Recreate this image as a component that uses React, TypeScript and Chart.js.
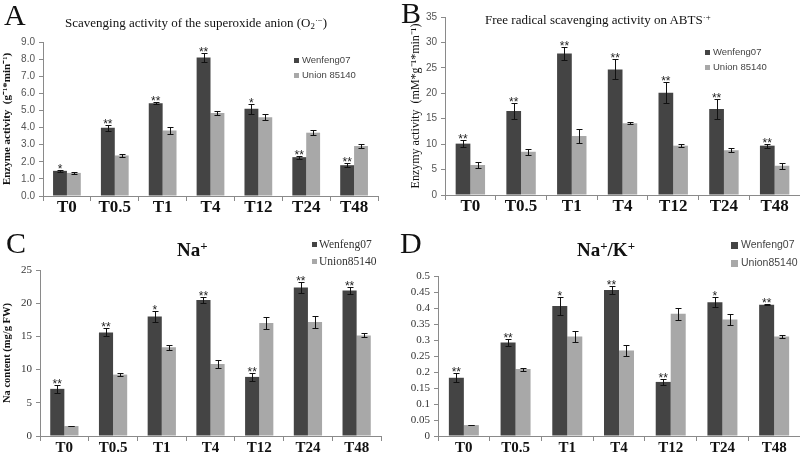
import React, { useEffect, useRef } from "react";
import { Chart, registerables } from "chart.js";

Chart.register(...registerables);

// ---------- data ----------
const categories = ["T0", "T0.5", "T1", "T4", "T12", "T24", "T48"];

// Panel A: superoxide anion scavenging
const aSeriesNames = ["Wenfeng07", "Union 85140"];
const aWenfeng = [1.47, 3.99, 5.42, 8.1, 5.1, 2.27, 1.8];
const aWenfengErr = [0.07, 0.17, 0.05, 0.28, 0.3, 0.08, 0.1];
const aUnion = [1.35, 2.37, 3.83, 4.85, 4.6, 3.7, 2.92];
const aUnionErr = [0.04, 0.08, 0.2, 0.12, 0.18, 0.13, 0.12];
const aStars = ["*", "**", "**", "**", "*", "**", "**"];
const aYMax = 9;
const aYStep = 1;

// Panel B: ABTS radical scavenging
const bSeriesNames = ["Wenfeng07", "Union 85140"];
const bWenfeng = [10.1, 16.5, 27.8, 24.7, 20.1, 16.9, 9.7];
const bWenfengErr = [0.65, 1.5, 1.3, 1.96, 2.06, 1.9, 0.4];
const bUnion = [5.9, 8.5, 11.6, 14.1, 9.7, 8.8, 5.75];
const bUnionErr = [0.5, 0.6, 1.45, 0.2, 0.3, 0.4, 0.55];
const bStars = ["**", "**", "**", "**", "**", "**", "**"];
const bYMax = 35;
const bYStep = 5;

// Panel C: Na+ content
const cSeriesNames = ["Wenfeng07", "Union85140"];
const cWenfeng = [7.1, 15.6, 18.0, 20.5, 8.9, 22.35, 21.9];
const cWenfengErr = [0.6, 0.6, 0.9, 0.45, 0.6, 0.85, 0.5];
const cUnion = [1.5, 9.25, 13.35, 10.85, 17.0, 17.15, 15.15];
const cUnionErr = [0.05, 0.2, 0.35, 0.65, 0.95, 0.9, 0.3];
const cStars = ["**", "**", "*", "**", "**", "**", "**"];
const cYMax = 25;
const cYStep = 5;

// Panel D: Na+/K+
const dSeriesNames = ["Wenfeng07", "Union85140"];
const dWenfeng = [0.182, 0.292, 0.406, 0.456, 0.169, 0.418, 0.41];
const dWenfengErr = [0.014, 0.011, 0.029, 0.013, 0.01, 0.015, 0.002];
const dUnion = [0.034, 0.209, 0.311, 0.267, 0.382, 0.364, 0.311];
const dUnionErr = [0.001, 0.005, 0.016, 0.018, 0.019, 0.018, 0.005];
const dStars = ["**", "**", "*", "**", "**", "*", "**"];
const dYMax = 0.5;
const dYStep = 0.05;

// ---------- styles ----------
const DARK = "#444444";
const LIGHT = "#a8a8a8";
const AXIS = "#8a8a8a";
const SERIF = '"Liberation Serif", "Times New Roman", serif';
const SANS = '"Liberation Sans", Arial, sans-serif';

type Area = { l: number; r: number; t: number; b: number };
type LegendStyle = { x: number; ys: number[]; font: string; box: number; gap: number; color: string };
type PanelSpec = {
  names: string[];
  values: number[][];
  errors: number[][];
  stars: string[];
  yMax: number;
  yStep: number;
  decimals: number | null;
  yTitle: string;
  area: Area;
  tickFont: { family: string; size: number; weight?: string };
  tickColor: string;
  yTitleFont: { family: string; size: number; weight?: string };
  yTitlePad: number;
  xFontSize: number;
  xPad: number;
  legend: LegendStyle;
};

const extrasPlugin = {
  id: "extras",
  afterDatasetsDraw(chart: any, _args: any, opts: any) {
    const { ctx } = chart;
    const yScale = chart.scales.y;
    chart.data.datasets.forEach((ds: any, di: number) => {
      const meta = chart.getDatasetMeta(di);
      const errs: number[] = opts.errors[di];
      meta.data.forEach((bar: any, i: number) => {
        const v = ds.data[i] as number;
        const e = errs[i];
        const x = Math.round(bar.x) + 0.5;
        const yT = Math.round(yScale.getPixelForValue(v + e)) + 0.5;
        const yB = Math.round(yScale.getPixelForValue(v - e)) + 0.5;
        ctx.save();
        ctx.strokeStyle = "#111";
        ctx.lineWidth = 1;
        ctx.beginPath();
        ctx.moveTo(x, yT);
        ctx.lineTo(x, yB);
        ctx.moveTo(x - 3, yT);
        ctx.lineTo(x + 3, yT);
        ctx.moveTo(x - 3, yB);
        ctx.lineTo(x + 3, yB);
        ctx.stroke();
        if (di === 0 && opts.stars[i]) {
          ctx.fillStyle = "#222";
          ctx.font = `12px ${SANS}`;
          ctx.textAlign = "center";
          ctx.textBaseline = "alphabetic";
          ctx.fillText(opts.stars[i], bar.x, yT + 2);
        }
        ctx.restore();
      });
    });
    // legend
    const lg: LegendStyle = opts.legend;
    ctx.save();
    chart.data.datasets.forEach((ds: any, di: number) => {
      const y = lg.ys[di];
      ctx.fillStyle = ds.backgroundColor;
      ctx.fillRect(lg.x, Math.round(y - lg.box / 2), lg.box, lg.box);
      ctx.fillStyle = lg.color;
      ctx.font = lg.font;
      ctx.textAlign = "left";
      ctx.textBaseline = "middle";
      ctx.fillText(ds.label, lg.x + lg.box + lg.gap, y + 0.5);
    });
    ctx.restore();
  },
};

function BarPanel({ spec }: { spec: PanelSpec }) {
  const ref = useRef<HTMLCanvasElement | null>(null);
  useEffect(() => {
    if (!ref.current) return;
    const s = spec;
    const chart = new Chart(ref.current, {
      type: "bar",
      data: {
        labels: categories,
        datasets: s.names.map((n, i) => ({
          label: n,
          data: s.values[i],
          backgroundColor: i === 0 ? DARK : LIGHT,
          borderWidth: 0,
          categoryPercentage: 0.58,
          barPercentage: 1.0,
        })),
      },
      options: {
        responsive: false,
        animation: false,
        events: [],
        layout: { padding: { top: s.area.t, right: 400 - s.area.r, left: 0, bottom: 0 } },
        plugins: {
          legend: { display: false },
          tooltip: { enabled: false },
          title: { display: false },
          // @ts-ignore
          extras: { errors: s.errors, stars: s.stars, legend: s.legend },
        },
        scales: {
          x: {
            type: "category",
            offset: true,
            grid: {
              display: true,
              drawOnChartArea: false,
              drawTicks: true,
              tickLength: 5,
              color: AXIS,
              offset: true,
            },
            border: { display: true, color: AXIS },
            ticks: {
              font: { family: SERIF, size: s.xFontSize, weight: "bold" },
              color: "#111",
              padding: s.xPad,
              maxRotation: 0,
              autoSkip: false,
            },
            afterFit: (sc: any) => {
              sc.height = 228 - s.area.b;
            },
          },
          y: {
            min: 0,
            max: s.yMax,
            ticks: {
              stepSize: s.yStep,
              autoSkip: false,
              font: s.tickFont,
              color: s.tickColor,
              padding: 4,
              callback: (v: any) =>
                s.decimals !== null ? Number(v).toFixed(s.decimals) : String(Math.round(Number(v) * 1000) / 1000),
            },
            grid: { display: true, drawOnChartArea: false, drawTicks: true, tickLength: 4, color: AXIS },
            border: { display: true, color: AXIS },
            title: {
              display: s.yTitle.length > 0,
              text: s.yTitle,
              font: s.yTitleFont,
              color: "#111",
              padding: { top: s.yTitlePad, bottom: 0 },
            },
            afterFit: (sc: any) => {
              sc.width = s.area.l;
            },
          },
        },
      },
      plugins: [extrasPlugin],
    } as any);
    return () => chart.destroy();
  }, [spec]);
  return <canvas ref={ref} width={400} height={228} style={{ display: "block" }} />;
}

const specA: PanelSpec = {
  names: aSeriesNames,
  values: [aWenfeng, aUnion],
  errors: [aWenfengErr, aUnionErr],
  stars: aStars,
  yMax: aYMax,
  yStep: aYStep,
  decimals: 1,
  yTitle: "Enzyme activity  (g\u207B\u00B9*min\u207B\u00B9)",
  area: { l: 43, r: 378, t: 42, b: 196 },
  tickFont: { family: SANS, size: 10 },
  tickColor: "#555",
  yTitleFont: { family: SERIF, size: 11, weight: "bold" },
  yTitlePad: 1,
  xFontSize: 17,
  xPad: -4,
  legend: { x: 294, ys: [60, 75], font: `9.5px ${SANS}`, box: 5, gap: 3, color: "#444" },
};

const specB: PanelSpec = {
  names: bSeriesNames,
  values: [bWenfeng, bUnion],
  errors: [bWenfengErr, bUnionErr],
  stars: bStars,
  yMax: bYMax,
  yStep: bYStep,
  decimals: null,
  yTitle: "Enzymy activity  (mM*g\u207B\u00B9*min\u207B\u00B9)",
  area: { l: 45, r: 794, t: 17, b: 195 },
  tickFont: { family: SANS, size: 10 },
  tickColor: "#555",
  yTitleFont: { family: SERIF, size: 12 },
  yTitlePad: 9,
  xFontSize: 17,
  xPad: -4,
  legend: { x: 305, ys: [52, 67], font: `9.5px ${SANS}`, box: 5, gap: 3, color: "#444" },
};

const specC: PanelSpec = {
  names: cSeriesNames,
  values: [cWenfeng, cUnion],
  errors: [cWenfengErr, cUnionErr],
  stars: cStars,
  yMax: cYMax,
  yStep: cYStep,
  decimals: null,
  yTitle: "Na content (mg/g FW)",
  area: { l: 40, r: 381, t: 42, b: 208 },
  tickFont: { family: SERIF, size: 11 },
  tickColor: "#333",
  yTitleFont: { family: SERIF, size: 10.5, weight: "bold" },
  yTitlePad: 1,
  xFontSize: 15,
  xPad: -2,
  legend: { x: 312, ys: [16, 33], font: `11.5px ${SERIF}`, box: 5, gap: 2, color: "#333" },
};

const specD: PanelSpec = {
  names: dSeriesNames,
  values: [dWenfeng, dUnion],
  errors: [dWenfengErr, dUnionErr],
  stars: dStars,
  yMax: dYMax,
  yStep: dYStep,
  decimals: null,
  yTitle: "",
  area: { l: 38, r: 782, t: 48, b: 208 },
  tickFont: { family: SERIF, size: 11 },
  tickColor: "#333",
  yTitleFont: { family: SERIF, size: 11 },
  yTitlePad: 1,
  xFontSize: 15,
  xPad: -2,
  legend: { x: 331, ys: [17, 35], font: `10.5px ${SANS}`, box: 7, gap: 3, color: "#444" },
};

const supStyle: React.CSSProperties = { fontSize: "0.68em", lineHeight: 0, verticalAlign: "0.45em" };
const subStyle: React.CSSProperties = { fontSize: "0.68em", lineHeight: 0, verticalAlign: "-0.25em" };

function Overlay({ left, top, font, children }: { left: number; top: number; font: string; children: React.ReactNode }) {
  return (
    <div
      style={{
        position: "absolute",
        left,
        top,
        font,
        lineHeight: 1,
        whiteSpace: "nowrap",
        color: "#111",
        pointerEvents: "none",
      }}
    >
      {children}
    </div>
  );
}

function PanelBox({ x, y, children }: { x: number; y: number; children: React.ReactNode }) {
  return <div style={{ position: "absolute", left: x, top: y, width: 400, height: 228 }}>{children}</div>;
}

export default function App() {
  return (
    <div
      style={{
        position: "absolute",
        left: 0,
        top: 0,
        width: 800,
        height: 456,
        background: "#fff",
        overflow: "hidden",
      }}
    >
      <PanelBox x={0} y={0}>
        <BarPanel spec={specA} />
        <Overlay left={4} top={0} font={`30px ${SERIF}`}>A</Overlay>
        <Overlay left={65} top={16} font={`13px ${SERIF}`}>
          Scavenging activity of the superoxide anion (O<span style={subStyle}>2</span>
          <span style={supStyle}>·−</span>)
        </Overlay>
      </PanelBox>
      <PanelBox x={400} y={0}>
        <BarPanel spec={specB} />
        <Overlay left={1} top={-2} font={`30px ${SERIF}`}>B</Overlay>
        <Overlay left={85} top={13} font={`13px ${SERIF}`}>
          Free radical scavenging activity on ABTS<span style={supStyle}>·+</span>
        </Overlay>
      </PanelBox>
      <PanelBox x={0} y={228}>
        <BarPanel spec={specC} />
        <Overlay left={6} top={0} font={`30px ${SERIF}`}>C</Overlay>
        <Overlay left={177} top={12} font={`bold 19px ${SERIF}`}>
          Na<span style={supStyle}>+</span>
        </Overlay>
      </PanelBox>
      <PanelBox x={400} y={228}>
        <BarPanel spec={specD} />
        <Overlay left={0} top={0} font={`30px ${SERIF}`}>D</Overlay>
        <Overlay left={177} top={12} font={`bold 19px ${SERIF}`}>
          Na<span style={supStyle}>+</span>/K<span style={supStyle}>+</span>
        </Overlay>
      </PanelBox>
    </div>
  );
}
